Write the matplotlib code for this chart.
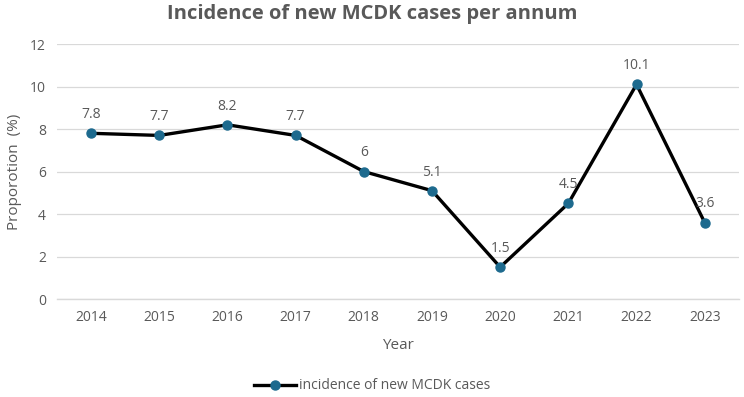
import matplotlib
matplotlib.use('Agg')
import matplotlib.pyplot as plt

years = ['2014', '2015', '2016', '2017', '2018', '2019', '2020', '2021', '2022', '2023']
incidence = [7.8, 7.7, 8.2, 7.7, 6, 5.1, 1.5, 4.5, 10.1, 3.6]
labels = ['7.8', '7.7', '8.2', '7.7', '6', '5.1', '1.5', '4.5', '10.1', '3.6']

plt.rcParams['font.family'] = ['Open Sans', 'DejaVu Sans']
grey = '#595959'

fig = plt.figure(figsize=(7.44, 3.97), dpi=100)
ax = fig.add_axes([0.0766, 0.2468, 0.9164, 0.6422])

x = list(range(len(years)))
ax.plot(x, incidence, color='black', lw=2.4, marker='o', markersize=6.5,
        markerfacecolor='#1d6a8e', markeredgecolor='#1d6a8e',
        label='incidence of new MCDK cases', zorder=3)

for xi, yi, t in zip(x, incidence, labels):
    ax.annotate(t, (xi, yi), xytext=(0, 8), textcoords='offset points',
                ha='center', va='bottom', fontsize=10, color=grey)

ax.set_xlim(-0.5, len(years) - 0.5)
ax.set_ylim(0, 12)
ax.set_yticks(range(0, 13, 2))
ax.set_xticks(x)
ax.set_xticklabels(years)
ax.tick_params(axis='both', length=0, labelsize=10, labelcolor=grey, pad=8)
ax.grid(axis='y', color='#d9d9d9', lw=0.9)
ax.set_axisbelow(True)
for s in ax.spines.values():
    s.set_visible(False)
ax.axhline(0, color='#d9d9d9', lw=1.0, zorder=1, clip_on=False)

ax.set_xlabel('Year', fontsize=11, color=grey, labelpad=9)
ax.set_ylabel('Proporotion  (%)', fontsize=11, color=grey, labelpad=6)
fig.text(0.5, 0.965, 'Incidence of new MCDK cases per annum', ha='center', va='center',
         fontsize=14.5, fontweight='bold', color=grey)

fig.legend(loc='center', bbox_to_anchor=(0.5, 0.028), frameon=False, fontsize=10,
           labelcolor=grey, handlelength=3, handletextpad=0.2)

fig.savefig('out.png', dpi=100)
